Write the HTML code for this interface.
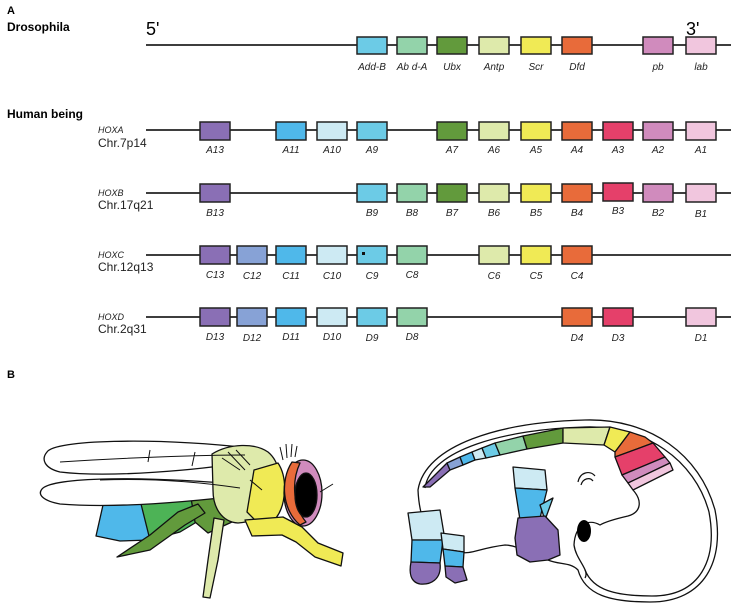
<!DOCTYPE html>
<html><head><style>
body{margin:0;background:#fff;}
svg{display:block;font-family:"Liberation Sans",sans-serif;}
.b{stroke:#222;stroke-width:1.5;}
.l{font-size:10px;font-style:italic;fill:#222;text-anchor:middle;}
.ln{stroke:#222;stroke-width:1.8;}
.o{stroke:#111;stroke-width:1.3;stroke-linejoin:round;}
</style></head><body>
<svg width="743" height="610" viewBox="0 0 743 610">
<text x="7" y="14" font-size="11" font-weight="bold">A</text>
<text x="7" y="31" font-size="12" font-weight="bold">Drosophila</text>
<text x="7" y="118" font-size="12" font-weight="bold">Human being</text>
<text x="146" y="35" font-size="18">5'</text>
<text x="686" y="35" font-size="18">3'</text>
<line class="ln" x1="146" y1="45" x2="731" y2="45"/>
<line class="ln" x1="146" y1="130" x2="731" y2="130"/>
<line class="ln" x1="146" y1="193" x2="731" y2="193"/>
<line class="ln" x1="146" y1="255" x2="731" y2="255"/>
<line class="ln" x1="146" y1="317" x2="731" y2="317"/>
<g font-size="9" font-style="italic" fill="#222">
<text x="98" y="133">HOXA</text><text x="98" y="196">HOXB</text><text x="98" y="258">HOXC</text><text x="98" y="320">HOXD</text></g>
<g font-size="12" fill="#222">
<text x="98" y="147">Chr.7p14</text><text x="98" y="209">Chr.17q21</text><text x="98" y="271">Chr.12q13</text><text x="98" y="333">Chr.2q31</text></g>
<g class="b">
<rect x="357" y="37" width="30" height="17" fill="#6ccbe6"/>
<rect x="397" y="37" width="30" height="17" fill="#93d3aa"/>
<rect x="437" y="37" width="30" height="17" fill="#629a3c"/>
<rect x="479" y="37" width="30" height="17" fill="#deeaab"/>
<rect x="521" y="37" width="30" height="17" fill="#f0ea55"/>
<rect x="562" y="37" width="30" height="17" fill="#e86b3a"/>
<rect x="643" y="37" width="30" height="17" fill="#d08bbd"/>
<rect x="686" y="37" width="30" height="17" fill="#f1c6de"/>
</g>
<g class="l">
<text x="372" y="70">Add-B</text><text x="412" y="70">Ab d-A</text><text x="452" y="70">Ubx</text><text x="494" y="70">Antp</text><text x="536" y="70">Scr</text><text x="577" y="70">Dfd</text><text x="658" y="70">pb</text><text x="701" y="70">lab</text>
</g>
<g class="b">
<rect x="200" y="122" width="30" height="18" fill="#8a6fb5"/>
<rect x="276" y="122" width="30" height="18" fill="#4fb8ea"/>
<rect x="317" y="122" width="30" height="18" fill="#cdeaf3"/>
<rect x="357" y="122" width="30" height="18" fill="#6ccbe6"/>
<rect x="437" y="122" width="30" height="18" fill="#629a3c"/>
<rect x="479" y="122" width="30" height="18" fill="#deeaab"/>
<rect x="521" y="122" width="30" height="18" fill="#f0ea55"/>
<rect x="562" y="122" width="30" height="18" fill="#e86b3a"/>
<rect x="603" y="122" width="30" height="18" fill="#e5406a"/>
<rect x="643" y="122" width="30" height="18" fill="#d08bbd"/>
<rect x="686" y="122" width="30" height="18" fill="#f1c6de"/>
</g>
<g class="l">
<text x="215" y="153">A13</text><text x="291" y="153">A11</text><text x="332" y="153">A10</text><text x="372" y="153">A9</text><text x="452" y="153">A7</text><text x="494" y="153">A6</text><text x="536" y="153">A5</text><text x="577" y="153">A4</text><text x="618" y="153">A3</text><text x="658" y="153">A2</text><text x="701" y="153">A1</text>
</g>
<g class="b">
<rect x="200" y="184" width="30" height="18" fill="#8a6fb5"/>
<rect x="357" y="184" width="30" height="18" fill="#6ccbe6"/>
<rect x="397" y="184" width="30" height="18" fill="#93d3aa"/>
<rect x="437" y="184" width="30" height="18" fill="#629a3c"/>
<rect x="479" y="184" width="30" height="18" fill="#deeaab"/>
<rect x="521" y="184" width="30" height="18" fill="#f0ea55"/>
<rect x="562" y="184" width="30" height="18" fill="#e86b3a"/>
<rect x="603" y="183" width="30" height="18" fill="#e5406a"/>
<rect x="643" y="184" width="30" height="18" fill="#d08bbd"/>
<rect x="686" y="184" width="30" height="18" fill="#f1c6de"/>
</g>
<g class="l">
<text x="215" y="216">B13</text><text x="372" y="216">B9</text><text x="412" y="216">B8</text><text x="452" y="216">B7</text><text x="494" y="216">B6</text><text x="536" y="216">B5</text><text x="577" y="216">B4</text><text x="618" y="214">B3</text><text x="658" y="216">B2</text><text x="701" y="217">B1</text>
</g>
<g class="b">
<rect x="200" y="246" width="30" height="18" fill="#8a6fb5"/>
<rect x="237" y="246" width="30" height="18" fill="#87a2d6"/>
<rect x="276" y="246" width="30" height="18" fill="#4fb8ea"/>
<rect x="317" y="246" width="30" height="18" fill="#cdeaf3"/>
<rect x="357" y="246" width="30" height="18" fill="#6ccbe6"/>
<rect x="397" y="246" width="30" height="18" fill="#93d3aa"/>
<rect x="479" y="246" width="30" height="18" fill="#deeaab"/>
<rect x="521" y="246" width="30" height="18" fill="#f0ea55"/>
<rect x="562" y="246" width="30" height="18" fill="#e86b3a"/>
</g>
<rect x="362" y="252" width="3" height="3" fill="#111"/>
<g class="l">
<text x="215" y="278">C13</text><text x="252" y="279">C12</text><text x="291" y="279">C11</text><text x="332" y="279">C10</text><text x="372" y="279">C9</text><text x="412" y="278">C8</text><text x="494" y="279">C6</text><text x="536" y="279">C5</text><text x="577" y="279">C4</text>
</g>
<g class="b">
<rect x="200" y="308" width="30" height="18" fill="#8a6fb5"/>
<rect x="237" y="308" width="30" height="18" fill="#87a2d6"/>
<rect x="276" y="308" width="30" height="18" fill="#4fb8ea"/>
<rect x="317" y="308" width="30" height="18" fill="#cdeaf3"/>
<rect x="357" y="308" width="30" height="18" fill="#6ccbe6"/>
<rect x="397" y="308" width="30" height="18" fill="#93d3aa"/>
<rect x="562" y="308" width="30" height="18" fill="#e86b3a"/>
<rect x="603" y="308" width="30" height="18" fill="#e5406a"/>
<rect x="686" y="308" width="30" height="18" fill="#f1c6de"/>
</g>
<g class="l">
<text x="215" y="340">D13</text><text x="252" y="341">D12</text><text x="291" y="340">D11</text><text x="332" y="340">D10</text><text x="372" y="341">D9</text><text x="412" y="340">D8</text><text x="577" y="341">D4</text><text x="618" y="341">D3</text><text x="701" y="341">D1</text>
</g>
<text x="7" y="378" font-size="11" font-weight="bold">B</text>

<!-- FLY -->
<g class="o">
<!-- abdomen -->
<path d="M103 505 L145 500 L150 540 L120 541 L96 536 Z" fill="#4fb8ea"/>
<path d="M140 500 L195 490 L200 520 L180 532 L150 540 Z" fill="#4db356"/>
<path d="M190 492 L232 487 L232 522 L208 533 L195 522 Z" fill="#629a3c"/>
<path d="M117 557 L150 550 L185 525 L205 513 L198 504 L178 512 L150 535 Z" fill="#629a3c"/>
<!-- pale leg -->
<path d="M214 518 L224 520 L218 560 L210 598 L203 597 L208 560 Z" fill="#deeaab"/>
<!-- wings -->
<path d="M47 452 C55 440 150 437 250 448 L246 462 C200 470 110 478 60 472 C44 468 41 459 47 452 Z" fill="#fff"/>
<path d="M42 489 C50 479 120 474 248 485 L246 495 C180 503 110 508 60 504 C44 501 37 495 42 489 Z" fill="#fff"/>
<!-- thorax -->
<path d="M212 454 C230 443 255 443 268 452 C280 462 282 480 276 495 C270 512 255 522 238 523 C222 522 213 508 213 490 Z" fill="#deeaab"/>
<path d="M254 470 L278 463 C288 478 286 505 276 518 L258 523 L247 512 Z" fill="#f0ea55"/>
<path d="M245 520 L283 517 L302 527 L318 543 L343 553 L341 566 L315 557 L296 542 L282 535 L252 536 Z" fill="#f0ea55"/>
<!-- head -->
<ellipse cx="303" cy="493" rx="19" ry="33" fill="#d08bbd"/>
<path d="M292 462 C280 480 282 510 300 525 L306 522 C292 505 292 480 300 463 Z" fill="#e86b3a"/>
<ellipse cx="306" cy="495" rx="11" ry="22" fill="#000"/>
</g>
<g stroke="#111" stroke-width="1" fill="none">
<path d="M60 462 C120 458 200 455 245 455 M100 480 C150 478 200 482 240 488 M150 450 L148 462 M195 452 L192 466"/>
<path d="M222 458 L240 470 M228 452 L245 470 M236 450 L250 465 M250 480 L262 490"/>
<path d="M283 460 L280 447 M287 458 L286 444 M291 457 L292 444 M295 457 L297 446"/>
<path d="M320 492 L333 484"/>
</g>

<!-- EMBRYO -->
<g class="o">
<path d="M418 490 C425 445 500 422 585 420 C650 418 700 455 715 510 C725 560 705 602 650 602 C610 602 585 595 578 570 C570 562 560 565 548 560 C535 558 520 545 505 545 C480 548 470 555 460 552 C440 548 420 535 418 490 Z" fill="#fff"/>
<path d="M425 488 C430 450 505 429 585 427 C645 425 695 460 709 512 C718 560 700 596 652 596 C615 596 593 590 585 570" fill="none"/>
<path d="M633 490 C642 500 642 512 628 516 C615 519 605 522 600 525 C588 518 575 525 574 545 C576 560 590 570 585 578" fill="none"/>
<path d="M423 487 L447 463 L450 470 L430 487 Z" fill="#8a6fb5"/>
<path d="M447 463 L460 457 L463 465 L450 470 Z" fill="#87a2d6"/>
<path d="M460 457 L472 452 L475 460 L463 465 Z" fill="#4fb8ea"/>
<path d="M472 452 L482 448 L486 458 L475 460 Z" fill="#cdeaf3"/>
<path d="M482 448 L495 443 L500 455 L486 458 Z" fill="#6ccbe6"/>
<path d="M495 443 L523 436 L527 449 L500 455 Z" fill="#93d3aa"/>
<path d="M523 436 L563 428 L563 443 L527 449 Z" fill="#629a3c"/>
<path d="M563 428 L610 427 L604 445 L563 443 Z" fill="#deeaab"/>
<path d="M610 427 L630 432 L615 452 L604 445 Z" fill="#f0ea55"/>
<path d="M630 432 L645 437 L653 443 L615 457 L615 452 Z" fill="#e86b3a"/>
<path d="M653 443 L665 457 L622 475 L615 457 Z" fill="#e5406a"/>
<path d="M665 457 L670 463 L628 483 L622 475 Z" fill="#d08bbd"/>
<path d="M670 463 L673 470 L633 490 L628 483 Z" fill="#f1c6de"/>
<path d="M513 467 L545 470 L547 490 L515 488 Z" fill="#cdeaf3"/>
<path d="M515 488 L547 490 L540 518 L520 520 Z" fill="#4fb8ea"/>
<path d="M540 505 L553 498 L545 520 Z" fill="#6ccbe6"/>
<path d="M518 518 L545 516 L558 530 L560 555 L548 560 L530 562 L517 555 L515 538 Z" fill="#8a6fb5"/>
<path d="M408 513 L440 510 L445 540 L412 540 Z" fill="#cdeaf3"/>
<path d="M412 540 L443 540 L440 563 L411 562 Z" fill="#4fb8ea"/>
<path d="M411 562 L440 563 C442 580 430 585 420 584 C410 582 409 572 411 562 Z" fill="#8a6fb5"/>
<path d="M441 533 L464 536 L464 552 L443 549 Z" fill="#cdeaf3"/>
<path d="M443 549 L464 552 L463 567 L445 566 Z" fill="#4fb8ea"/>
<path d="M445 566 L463 567 L467 580 L455 583 L446 577 Z" fill="#8a6fb5"/>
</g>
<ellipse cx="584" cy="531" rx="7" ry="11" fill="#000"/>
<path d="M578 482 C580 472 590 470 595 476 M581 485 C583 478 590 477 593 481" stroke="#111" stroke-width="1.2" fill="none"/>
</svg>
</body></html>
